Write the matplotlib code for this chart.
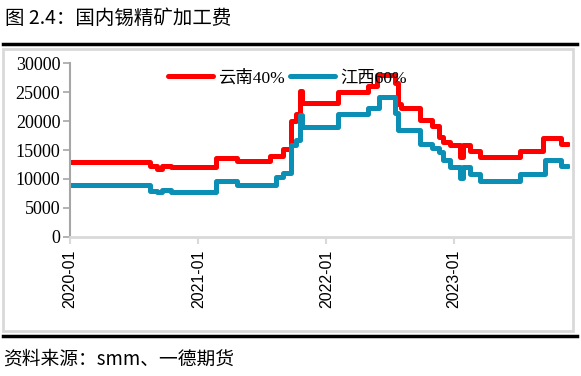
import matplotlib
matplotlib.use('Agg')
import matplotlib.pyplot as plt
import matplotlib.dates as mdates
import pandas as pd
from matplotlib.lines import Line2D
from matplotlib.patches import Rectangle

plt.rcParams['font.family'] = ['Liberation Serif', 'Noto Sans CJK SC']

# step change points
yn_dates = ['2020-01-01', '2020-08-15', '2020-09-05', '2020-09-20', '2020-10-15',
            '2021-02-20', '2021-04-20', '2021-07-25', '2021-08-30', '2021-09-23',
            '2021-10-08', '2021-10-18', '2021-10-25', '2022-02-03', '2022-04-30',
            '2022-05-26', '2022-07-16', '2022-07-24', '2022-08-03', '2022-09-24',
            '2022-10-30', '2022-11-18', '2022-12-01', '2022-12-20', '2023-01-18',
            '2023-01-25', '2023-02-15', '2023-03-15', '2023-07-08', '2023-09-12',
            '2023-11-02', '2023-11-22']
yn_vals = [13000, 12200, 11800, 12200, 12000,
           13700, 13100, 14000, 15100, 20000,
           21300, 25200, 23200, 25100, 26000,
           28000, 26500, 23000, 22200, 20100,
           19100, 17200, 16400, 15800, 13800,
           15800, 14900, 13800, 14900, 17000,
           16100, 16100]

jx_dates = ['2020-01-01', '2020-08-15', '2020-09-05', '2020-09-20', '2020-10-15',
            '2021-02-20', '2021-04-20', '2021-08-10', '2021-08-30', '2021-09-23',
            '2021-10-08', '2021-10-18', '2021-10-25', '2022-02-03', '2022-04-30',
            '2022-06-01', '2022-07-16', '2022-07-24', '2022-09-24', '2022-10-30',
            '2022-11-18', '2022-12-01', '2022-12-20', '2023-01-18', '2023-01-25',
            '2023-02-15', '2023-03-15', '2023-07-08', '2023-09-16', '2023-11-02',
            '2023-11-22']
jx_vals = [9000, 8000, 7800, 8100, 7800,
           9700, 9000, 10300, 11100, 15800,
           16700, 21000, 19000, 21200, 22200,
           24200, 21400, 18400, 16100, 15300,
           14600, 13200, 12000, 10100, 12000,
           10900, 9700, 10900, 13200, 12300,
           12300]

fig = plt.figure(figsize=(5.81, 3.76), dpi=100)
ax = fig.add_axes([0.1205, 0.370, 0.861, 0.462])

ax.plot(pd.to_datetime(yn_dates), yn_vals, drawstyle='steps-post', color='#ff0000', lw=3.6,
        label='云南40%', solid_capstyle='round')
ax.plot(pd.to_datetime(jx_dates), jx_vals, drawstyle='steps-post', color='#0b8fb5', lw=3.6,
        label='江西60%', solid_capstyle='round')

ax.set_ylim(0, 30000)
ax.set_yticks(range(0, 30001, 5000))
ax.set_xlim(pd.Timestamp('2020-01-01'), pd.Timestamp('2023-11-28'))
ax.xaxis.set_major_locator(mdates.YearLocator())
ax.xaxis.set_major_formatter(mdates.DateFormatter('%Y-%m'))
for lab in ax.get_xticklabels():
    lab.set_rotation(90)
    lab.set_family('Liberation Sans')
    lab.set_fontsize(11.5)
ax.tick_params(axis='y', labelsize=13, color='#a6a6a6', length=5, width=1.2, pad=2)
ax.tick_params(axis='x', color='#d9d9d9', length=5, width=1.5, pad=4)

for s in ['top', 'right']:
    ax.spines[s].set_visible(False)
ax.spines['left'].set_color('#a6a6a6')
ax.spines['left'].set_linewidth(1.5)
ax.spines['bottom'].set_color('#d9d9d9')
ax.spines['bottom'].set_linewidth(2)

ax.legend(loc='upper center', bbox_to_anchor=(0.435, 1.05), ncol=2, frameon=False,
          fontsize=12.5, handlelength=2.6, columnspacing=0.3, handletextpad=0.3)

# frame decorations
fig.add_artist(Rectangle((0.005, 0.120), 0.981, 0.750, transform=fig.transFigure,
                         fill=False, edgecolor='#d9d9d9', lw=2))
fig.add_artist(Line2D([0.005, 0.993], [0.883, 0.883], transform=fig.transFigure,
                      color='black', lw=2.5))
fig.add_artist(Line2D([0.005, 0.993], [0.106, 0.106], transform=fig.transFigure,
                      color='black', lw=2.5))

fig.text(0.008, 0.952, '图 2.4：国内锡精矿加工费', fontsize=14, va='center',
         family=['Noto Sans CJK SC', 'DejaVu Sans'])
fig.text(0.006, 0.046, '资料来源：smm、一德期货', fontsize=13.5, va='center',
         family=['Noto Sans CJK SC', 'DejaVu Sans'])

fig.savefig('out.png', dpi=100)
